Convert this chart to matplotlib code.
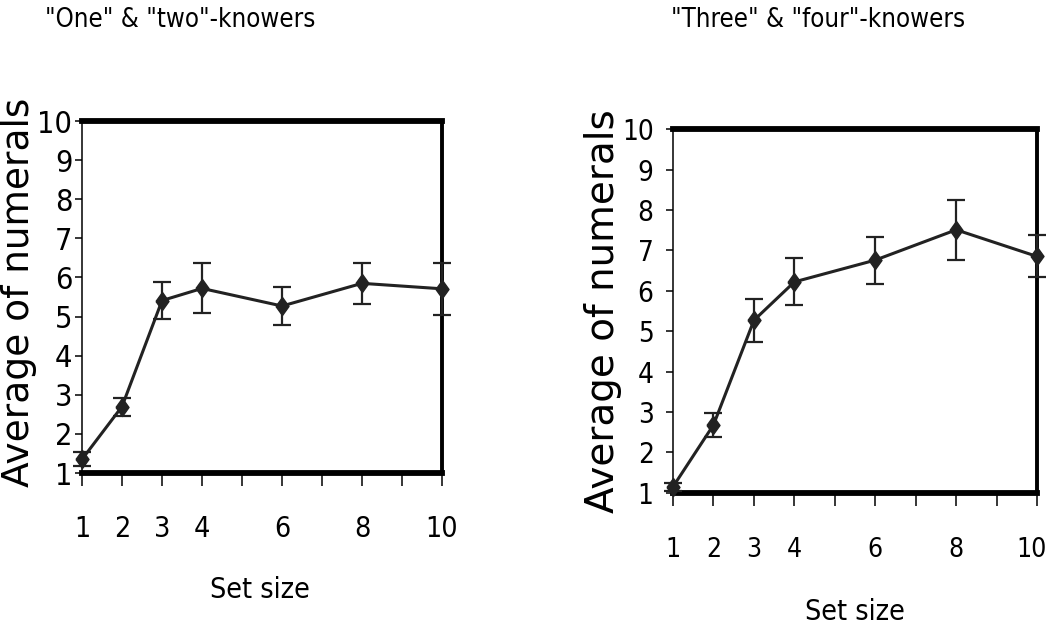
import numpy as np
import matplotlib
matplotlib.use("Agg")
import matplotlib.pyplot as plt
from matplotlib.transforms import ScaledTranslation

# set sizes shown on the x axis
set_sizes = [1, 2, 3, 4, 6, 8, 10]

# "one" & "two"-knowers
low_means = [1.35, 2.70, 5.41, 5.72, 5.27, 5.85, 5.71]
low_err = [0.18, 0.23, 0.48, 0.64, 0.48, 0.53, 0.67]

# "three" & "four"-knowers
high_means = [1.15, 2.68, 5.27, 6.22, 6.76, 7.51, 6.85]
high_err = [0.10, 0.30, 0.53, 0.58, 0.58, 0.75, 0.52]

titles = ['"One" & "two"-knowers', '"Three" & "four"-knowers']

# narrow text like the original figure
narrow = dict(family="DejaVu Sans", stretch="condensed")

dark = "#222222"
# custom tall diamond
diamond = [(-0.72, 0), (0, 1), (0.72, 0), (0, -1), (-0.72, 0)]

fig = plt.figure(figsize=(10.5, 6.35), dpi=100)

panels = [
    dict(rect=[0.0781, 0.2551, 0.3429, 0.5543], means=low_means, err=low_err,
         title=(0.1714, 0.9685), xlab=(0.2476, 0.0709), ylab=(0.0181, 0.540),
         xpad=21, xfs=20.5, ypad=2, yfs=22, ylfs=27),
    dict(rect=[0.6410, 0.2240, 0.3467, 0.5725], means=high_means, err=high_err,
         title=(0.7790, 0.9685), xlab=(0.8143, 0.0362), ylab=(0.5745, 0.510),
         xpad=23, xfs=19, ypad=9, yfs=20, ylfs=28),
]

for p, title in zip(panels, titles):
    ax = fig.add_axes(p["rect"])
    ax.errorbar(set_sizes, p["means"], yerr=p["err"], color=dark, lw=2.2,
                marker=diamond, ms=13, mfc=dark, mec=dark,
                ecolor=dark, elinewidth=1.6, capsize=6.5, capthick=1.6,
                clip_on=False, zorder=3)
    ax.set_xlim(1, 10)
    ax.set_ylim(1, 10)
    ax.set_xticks(range(1, 11))
    ax.set_xticklabels([str(i) if i in set_sizes else "" for i in range(1, 11)])
    ax.set_yticks(range(1, 11))
    ax.tick_params(axis="x", direction="out", length=9, width=1.1, pad=p["xpad"],
                   labelsize=p["xfs"], colors="black")
    ax.tick_params(axis="y", direction="out", length=5, width=1.1, pad=p["ypad"],
                   labelsize=p["yfs"])
    for lab in ax.get_xticklabels() + ax.get_yticklabels():
        lab.set_family(narrow["family"])
        lab.set_stretch(narrow["stretch"])
    ax.spines["top"].set_linewidth(4.2)
    ax.spines["bottom"].set_linewidth(4.2)
    ax.spines["right"].set_linewidth(2.8)
    ax.spines["left"].set_linewidth(1.1)
    for s in ax.spines.values():
        s.set_capstyle("projecting")

    fig.text(*p["title"], title, ha="center", va="center", fontsize=18.5, **narrow)
    fig.text(*p["xlab"], "Set size", ha="center", va="center", fontsize=20.5, **narrow)
    fig.text(*p["ylab"], "Average of numerals", ha="center", va="center",
             rotation=90, fontsize=p["ylfs"], family="DejaVu Sans")

# the last "10" sits right at the figure edge; nudge it in a little
last = ax.get_xticklabels()[-1]
last.set_transform(last.get_transform() + ScaledTranslation(-4 / 72, 0, fig.dpi_scale_trans))

fig.savefig("out.png", dpi=100)
